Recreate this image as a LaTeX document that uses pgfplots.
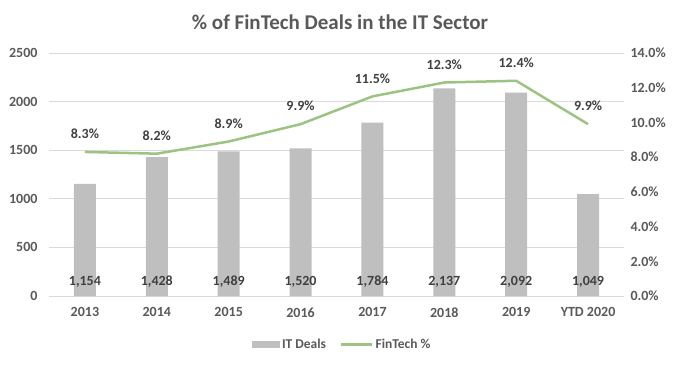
\documentclass[border=0pt]{standalone}
\usepackage{pgfplots}
\pgfplotsset{compat=1.18}
\usepackage{fontspec}
\setmainfont{Carlito}
\definecolor{txt}{HTML}{595959}
\definecolor{lbl}{HTML}{404040}
\definecolor{bargray}{HTML}{BFBFBF}
\definecolor{gridc}{HTML}{D9D9D9}
\definecolor{lgreen}{RGB}{157,195,130}
\begin{document}
\begin{tikzpicture}[x=1pt,y=1pt]
\path[use as bounding box] (0,0) rectangle (680,365);
\node[font=\bfseries\fontsize{21}{24}\selectfont, text=txt] at (340,343) {\% of FinTech Deals in the IT Sector};
\begin{axis}[
  at={(49pt,69pt)}, anchor=south west,
  scale only axis, width=575pt, height=243pt,
  xmin=-0.5, xmax=7.5, ymin=0, ymax=2500,
  xtick={0,...,7},
  xticklabels={2013,2014,2015,2016,2017,2018,2019,YTD 2020},
  ytick={0,500,...,2500},
  /pgf/number format/assume math mode=true,
  yticklabel={\pgfmathprintnumber[fixed,precision=0,1000 sep={}]{\tick}},
  axis line style={draw=none},
  major tick length=0pt,
  ymajorgrids, grid style={gridc, line width=0.8pt},
  tick label style={font=\bfseries\fontsize{14}{16}\selectfont, text=txt},
  xticklabel style={yshift=-8pt},
  yticklabel style={xshift=-8pt},
  legend style={draw=none, fill=none, legend columns=2, at={(0.51,-0.20)}, anchor=center,
    font=\bfseries\fontsize{13.5}{15}\selectfont, text=txt,
    /tikz/every even column/.append style={column sep=12pt}},
]
\addplot[ybar, bar width=22pt, fill=bargray, draw=none,
  legend image code/.code={\fill[bargray] (0pt,-3.5pt) rectangle (28pt,3.5pt);},
  visualization depends on={y \as \rawy},
  nodes near coords={\pgfmathprintnumber[fixed,precision=0,1000 sep={,}]{\pgfplotspointmeta}},
  every node near coord/.append style={anchor=center, text=lbl,
    font=\bfseries\fontsize{14}{16}\selectfont,
    shift={(axis direction cs:0,{144-\rawy})}},
] coordinates {(0,1154) (1,1428) (2,1489) (3,1520) (4,1784) (5,2137) (6,2092) (7,1049)};
\addlegendentry{IT Deals}
\addlegendimage{legend image code/.code={\draw[lgreen,line width=2.5pt] (0pt,0pt) -- (31pt,0pt);}}
\addlegendentry{FinTech \%}
\end{axis}
\begin{axis}[
  at={(49pt,69pt)}, anchor=south west,
  scale only axis, width=575pt, height=243pt,
  xmin=-0.5, xmax=7.5, ymin=0, ymax=14,
  xtick=\empty,
  axis y line*=right, axis x line=none,
  ytick={0,2,...,14},
  /pgf/number format/assume math mode=true,
  yticklabel={\pgfmathprintnumber[fixed,fixed zerofill,precision=1]{\tick}\%},
  axis line style={draw=none},
  major tick length=0pt,
  tick label style={font=\bfseries\fontsize{14}{16}\selectfont, text=txt},
  yticklabel style={xshift=3pt},
]
\addplot[lgreen, line width=2.5pt,
  nodes near coords={\pgfmathprintnumber[fixed,fixed zerofill,precision=1]{\pgfplotspointmeta}\%},
  every node near coord/.append style={anchor=center, yshift=18pt, text=lbl,
    font=\bfseries\fontsize{14}{16}\selectfont},
] coordinates {(0,8.3) (1,8.2) (2,8.9) (3,9.9) (4,11.5) (5,12.3) (6,12.4) (7,9.9)};
\end{axis}
\end{tikzpicture}
\end{document}
